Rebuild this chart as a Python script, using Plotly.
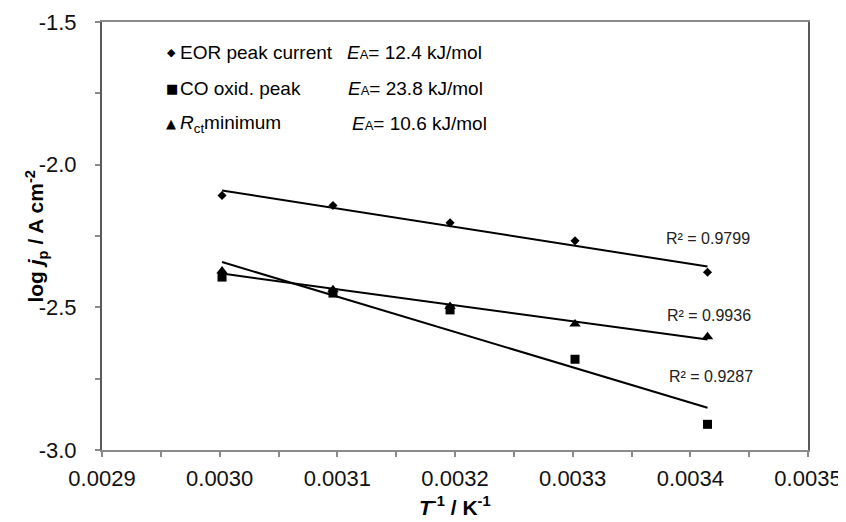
import numpy as np
import plotly.graph_objects as go

# ---- data ----
inv_T = [0.0030020, 0.0030963, 0.0031958, 0.0033020, 0.0034146]
eor_peak = [-2.108, -2.143, -2.204, -2.267, -2.377]
co_peak = [-2.394, -2.450, -2.509, -2.682, -2.910]
rct_min = [-2.373, -2.438, -2.497, -2.558, -2.603]

series_names = ["EOR peak current", "CO oxid. peak", "<i>R</i><sub>ct</sub>minimum"]
series_symbols = ["diamond", "square", "triangle-up"]
legend_glyphs = ["◆", "■", "▲"]
activation = ["12.4", "23.8", "10.6"]
r_squared = ["0.9799", "0.9287", "0.9936"]

y_tickvals = [-3.0, -2.5, -2.0, -1.5]
y_ticktext = ["-3.0", "-2.5", "-2.0", "-1.5"]
x_tickvals = [0.0029, 0.0030, 0.0031, 0.0032, 0.0033, 0.0034, 0.0035]
x_ticktext = ["0.0029", "0.0030", "0.0031", "0.0032", "0.0033", "0.0034", "0.0035"]

FONT = "Liberation Sans, Arial, sans-serif"
# the page body has an 8px margin; size the figure so the plot area lands
# at window pixels x 101.5..808.3, y 22..450
OFF = 8
W, H = 846 - OFF, 522 - OFF
PL, PR, PT, PB = 101.5, 808.3, 22, 450  # plot area in window pixels
PW, PH = PR - PL, PB - PT


def px(x):
    return (x - PL) / PW


def py(y):
    return (PB - y) / PH


fig = go.Figure()
all_series = [eor_peak, co_peak, rct_min]
sizes = [7, 9, 10]
for vals, sym, size in zip(all_series, series_symbols, sizes):
    fig.add_trace(go.Scatter(x=inv_T, y=vals, mode="markers",
                             marker=dict(symbol=sym, size=size, color="black"),
                             showlegend=False))
    slope, icpt = np.polyfit(inv_T, vals, 1)
    xs = [inv_T[0], inv_T[-1]]
    fig.add_trace(go.Scatter(x=xs, y=[slope * v + icpt for v in xs], mode="lines",
                             line=dict(color="black", width=2), showlegend=False,
                             hoverinfo="skip"))

annotations = []
# legend rows
rows_y = [53, 88.5, 123.5]
sym_x = [170.7, 171.3, 170.3]
sym_sizes = [11, 13, 13]
ea_x = [347, 348, 351.5]
for i in range(3):
    annotations.append(dict(x=px(sym_x[i]), y=py(rows_y[i]), xref="paper", yref="paper",
                            text=legend_glyphs[i], showarrow=False, xanchor="center",
                            yanchor="middle",
                            font=dict(family="DejaVu Sans", size=sym_sizes[i], color="black")))
    annotations.append(dict(x=px(178), y=py(rows_y[i]), xref="paper", yref="paper",
                            text=series_names[i], showarrow=False, xanchor="left",
                            yanchor="middle", font=dict(family=FONT, size=19, color="black")))
    annotations.append(dict(x=px(ea_x[i] - 2), y=py(rows_y[i]), xref="paper", yref="paper",
                            text="<i>E</i><span style='font-size:13px'>A</span>= "
                                 + activation[i] + " kJ/mol",
                            showarrow=False, xanchor="left", yanchor="middle",
                            font=dict(family=FONT, size=19, color="black")))

# R² labels (next to last point of each fit)
r2_pos = [(708, 238), (711, 376), (709, 315)]
for (xp, yp), r2 in zip(r2_pos, r_squared):
    annotations.append(dict(x=px(xp), y=py(yp), xref="paper", yref="paper",
                            text="R² = " + r2, showarrow=False, xanchor="center",
                            yanchor="middle", font=dict(family=FONT, size=16, color="#222")))

# axis titles
annotations.append(dict(x=px(35), y=py(236), xref="paper", yref="paper", textangle=-90,
                        text="<b>log <i>j</i><sub>p</sub> / A cm<sup>-2</sup></b>",
                        showarrow=False, xanchor="center", yanchor="middle",
                        font=dict(family=FONT, size=21, color="black")))
annotations.append(dict(x=px(455), y=py(506), xref="paper", yref="paper",
                        text="<b><i>T</i><sup>-1</sup> / K<sup>-1</sup></b>",
                        showarrow=False, xanchor="center", yanchor="middle",
                        font=dict(family=FONT, size=21, color="black")))

fig.update_layout(
    width=W, height=H,
    margin=dict(l=PL - OFF, r=W - (PR - OFF), t=PT - OFF, b=H - (PB - OFF)),
    paper_bgcolor="white", plot_bgcolor="white",
    font=dict(family=FONT, color="black"),
    annotations=annotations,
    xaxis=dict(range=[0.0029, 0.0035], tickvals=x_tickvals, ticktext=x_ticktext,
               automargin=False,
               showgrid=False, zeroline=False, showline=True, linecolor="#8a8a8a",
               linewidth=2, mirror=True, ticks="outside", ticklen=5, tickcolor="#8a8a8a",
               tickwidth=1.5, ticklabelstandoff=3,
               minor=dict(dtick=0.00005, tick0=0.0029, ticks="outside", ticklen=5,
                          tickcolor="#8a8a8a", tickwidth=1.5, showgrid=False),
               tickfont=dict(family=FONT, size=22, color="#111")),
    yaxis=dict(range=[-3.0, -1.5], tickvals=y_tickvals, ticktext=y_ticktext,
               automargin=False,
               showgrid=False, zeroline=False, showline=True, linecolor="#5a5a5a",
               linewidth=2, mirror=True, ticks="outside", ticklen=5, tickcolor="#8a8a8a",
               tickwidth=1.5, ticklabelstandoff=14,
               minor=dict(dtick=0.25, tick0=-3.0, ticks="outside", ticklen=5,
                          tickcolor="#8a8a8a", tickwidth=1.5, showgrid=False),
               tickfont=dict(family=FONT, size=22, color="#111")),
)

fig.write_html("out.html")
